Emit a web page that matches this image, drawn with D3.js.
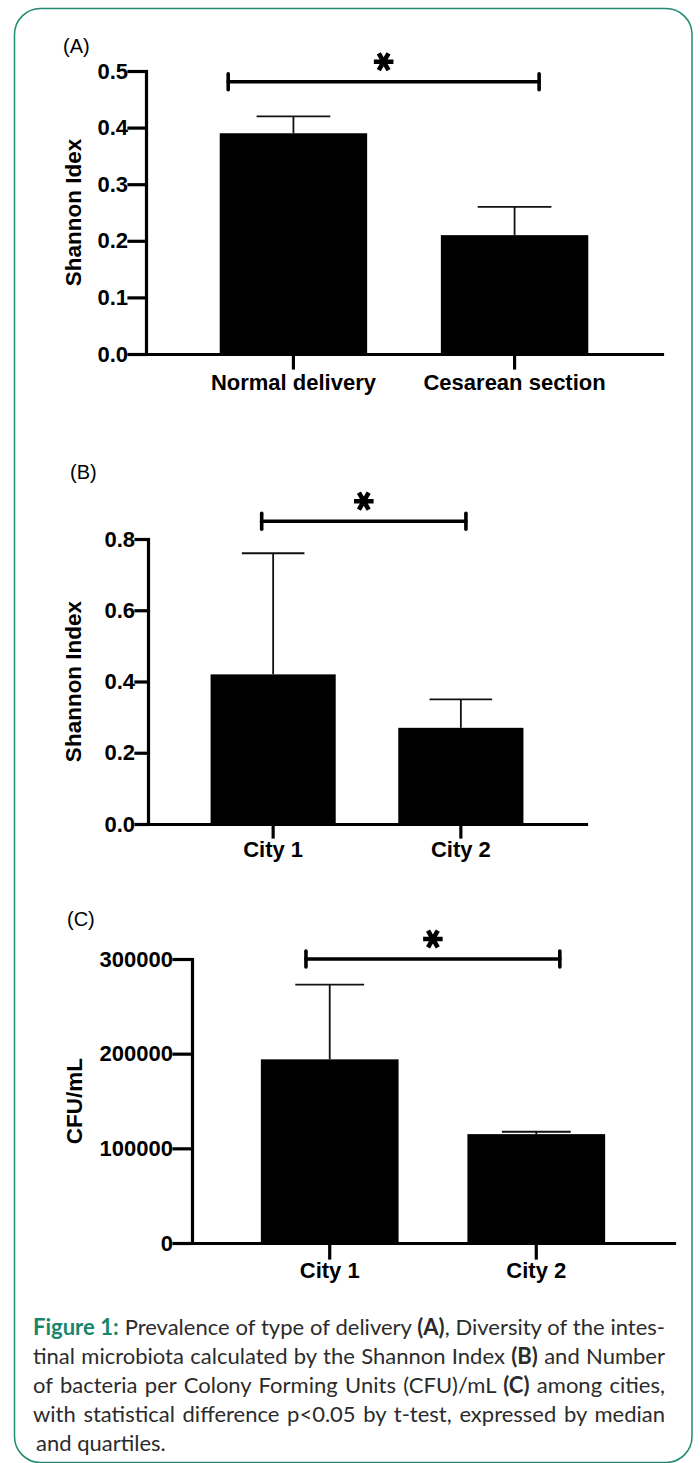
<!DOCTYPE html>
<html>
<head>
<meta charset="utf-8">
<script src="https://cdn.jsdelivr.net/npm/d3@7"></script>
<style>
  body { margin: 0; background: #fff; }
  svg { display: block; }
</style>
</head>
<body>
<div id="holder"></div>
<script>
// ---- values ----
// (A) type of delivery
const deliveryLabels = ["Normal delivery", "Cesarean section"];
const deliveryShannon = [0.39, 0.21];
const deliveryUpper = [0.42, 0.26];
const deliveryTicks = [0, 0.1, 0.2, 0.3, 0.4, 0.5];
const deliverySig = [-0.295, 1.111, 0.481];   // from, to (in category units), height

// (B) Shannon index by city
const cityLabels = ["City 1", "City 2"];
const cityShannon = [0.42, 0.27];
const cityShannonUpper = [0.76, 0.35];
const shannonTicks = [0, 0.2, 0.4, 0.6, 0.8];
const shannonSig = [-0.061, 1.027, 0.85];

// (C) CFU/mL by city
const cityCfu = [194000, 115000];
const cityCfuUpper = [273000, 117500];
const cfuTicks = [0, 100000, 200000, 300000];
const cfuSig = [-0.115, 1.114, 300000];

// caption, one array per printed line: [text, style]
const captionLines = [
  [["Figure 1:", "fig"], [" Prevalence of type of delivery ", ""], ["(A)", "b"], [", Diversity of the intes-", ""]],
  [["tinal microbiota calculated by the Shannon Index ", ""], ["(B)", "b"], [" and Number", ""]],
  [["of bacteria per Colony Forming Units (CFU)/mL ", ""], ["(C)", "b"], [" among cities,", ""]],
  [["with statistical difference p<0.05 by t-test, expressed by median", ""]],
  [["and quartiles.", ""]]
];

var width = 700, height = 1463;
var chartFont = "'Liberation Sans', Arial, sans-serif";

var svg = d3.select("#holder")
            .append("svg")
            .attr("width", width)
            .attr("height", height);

// rounded frame around the figure
svg.append("rect")
   .attr("x", 14.5).attr("y", 8.5)
   .attr("width", 677.5).attr("height", 1454)
   .attr("rx", 26).attr("ry", 26)
   .attr("fill", "none")
   .attr("stroke", "#1f8a70")
   .attr("stroke-width", 1.5);

function drawPanel(p) {
  var g = svg.append("g");

  var x = d3.scaleBand()
            .domain(p.labels)
            .range([p.left, p.right])
            .paddingInner(1 / 3)
            .paddingOuter(1 / 3);

  var y = d3.scaleLinear()
            .domain([0, d3.max(p.ticks)])
            .range([p.bottom, p.top]);

  var bw = x.bandwidth();
  var cx = (i) => x(p.labels[i]) + bw / 2;

  // bars
  g.selectAll(".bar")
   .data(p.values)
   .enter()
   .append("rect")
   .attr("class", "bar")
   .attr("x", (d, i) => x(p.labels[i]))
   .attr("y", d => y(d))
   .attr("width", bw)
   .attr("height", d => y(0) - y(d))
   .attr("fill", "#000");

  // upper error whiskers
  var err = g.selectAll(".err")
             .data(p.upper)
             .enter()
             .append("g")
             .attr("class", "err")
             .attr("stroke", "#111")
             .attr("stroke-width", 1.8);
  err.append("line")
     .attr("x1", (d, i) => cx(i)).attr("x2", (d, i) => cx(i))
     .attr("y1", (d, i) => y(p.values[i])).attr("y2", d => y(d));
  err.append("line")
     .attr("x1", (d, i) => cx(i) - bw / 4).attr("x2", (d, i) => cx(i) + bw / 4)
     .attr("y1", d => y(d)).attr("y2", d => y(d));

  // axes
  var yAxis = d3.axisLeft(y)
                .tickValues(p.ticks)
                .tickFormat(p.format)
                .tickSize(p.yTick)
                .tickSizeOuter(0)
                .tickPadding(1);
  var xAxis = d3.axisBottom(x)
                .tickSize(p.xTick)
                .tickSizeOuter(0)
                .tickPadding(p.xPad);

  var ya = g.append("g")
            .attr("transform", "translate(" + p.left + ",0)")
            .call(yAxis);
  var xa = g.append("g")
            .attr("transform", "translate(0," + p.bottom + ")")
            .call(xAxis);

  [ya, xa].forEach(a => {
    a.attr("font-family", chartFont)
     .attr("font-size", 22)
     .attr("font-weight", "bold");
    a.selectAll("path, line")
     .attr("stroke", "#000")
     .attr("stroke-width", 3.2)
     .attr("stroke-linecap", "square");
    a.selectAll("text").attr("fill", "#000");
  });

  // y axis title
  g.append("text")
   .attr("transform", "translate(" + p.titleX + "," + ((p.top + p.bottom) / 2) + ") rotate(-90)")
   .attr("text-anchor", "middle")
   .attr("dominant-baseline", "central")
   .attr("font-family", chartFont)
   .attr("font-size", 22.5)
   .attr("font-weight", "bold")
   .text(p.yTitle);

  // panel letter
  g.append("text")
   .attr("x", p.letterX)
   .attr("y", p.letterY)
   .attr("font-family", chartFont)
   .attr("font-size", 20)
   .text(p.letter);

  // significance bracket
  var idx = d3.scaleLinear().domain([0, 1]).range([cx(0), cx(1)]);
  var bx1 = idx(p.sig[0]), bx2 = idx(p.sig[1]), by = y(p.sig[2]);
  var br = g.append("g")
            .attr("stroke", "#000")
            .attr("stroke-width", 3.6)
            .attr("stroke-linecap", "round");
  br.append("line").attr("x1", bx1).attr("x2", bx2).attr("y1", by).attr("y2", by);
  br.append("line").attr("x1", bx1).attr("x2", bx1).attr("y1", by - 8).attr("y2", by + 8);
  br.append("line").attr("x1", bx2).attr("x2", bx2).attr("y1", by - 8).attr("y2", by + 8);

  g.append("path")
   .attr("d", d3.symbol(d3.symbolAsterisk, 270)())
   .attr("transform", "translate(" + ((bx1 + bx2) / 2) + "," + (by - 20) + ") rotate(90)")
   .attr("fill", "none")
   .attr("stroke", "#000")
   .attr("stroke-width", 4.6);
}

drawPanel({
  labels: deliveryLabels, values: deliveryShannon, upper: deliveryUpper,
  ticks: deliveryTicks, sig: deliverySig, format: d3.format(".1f"),
  yTitle: "Shannon Idex", letter: "(A)",
  left: 146, right: 662, top: 71, bottom: 354,
  yTick: 17, xTick: 14, xPad: 6.4,
  titleX: 73.5, letterX: 63, letterY: 53
});

drawPanel({
  labels: cityLabels, values: cityShannon, upper: cityShannonUpper,
  ticks: shannonTicks, sig: shannonSig, format: d3.format(".1f"),
  yTitle: "Shannon Index", letter: "(B)",
  left: 148, right: 586, top: 539, bottom: 824,
  yTick: 12, xTick: 13, xPad: 4.4,
  titleX: 73.5, letterX: 70, letterY: 479
});

drawPanel({
  labels: cityLabels, values: cityCfu, upper: cityCfuUpper,
  ticks: cfuTicks, sig: cfuSig, format: d3.format("d"),
  yTitle: "CFU/mL", letter: "(C)",
  left: 192, right: 674, top: 959, bottom: 1243,
  yTick: 18, xTick: 15, xPad: 4.4,
  titleX: 74, letterX: 67, letterY: 926
});

// caption, justified between x=33 and x=665
var capLeft = 33, capRight = 665;
var cap = svg.append("g")
             .attr("font-family", "Lato, 'Open Sans', sans-serif")
             .attr("font-size", 22)
             .attr("fill", "#2b2b2b");

captionLines.forEach((line, i) => {
  var t = cap.append("text")
             .attr("x", i === captionLines.length - 1 ? capLeft + 3 : capLeft)
             .attr("y", 1335 + i * 28.9);
  line.forEach(seg => {
    var s = t.append("tspan").text(seg[0]);
    if (seg[1] === "fig") s.attr("font-weight", "bold").attr("fill", "#17866b");
    if (seg[1] === "b") s.attr("font-weight", "bold");
  });
  // stretch word gaps so the line fills the column, except the last one
  if (i < captionLines.length - 1) {
    var natural = t.node().getComputedTextLength();
    var gaps = line.map(s => s[0]).join("").split(" ").length - 1;
    t.attr("word-spacing", (capRight - capLeft - natural) / gaps);
  }
});
</script>
</body>
</html>
